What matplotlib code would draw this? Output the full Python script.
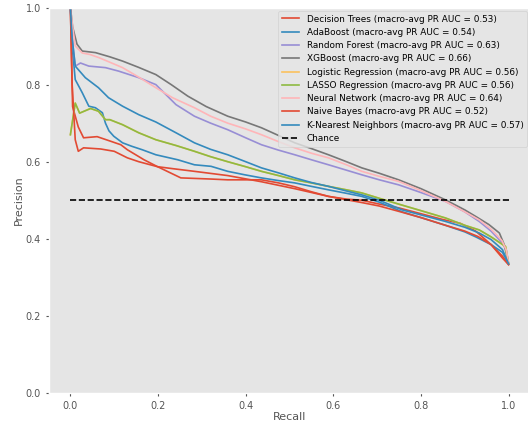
import numpy as np
import matplotlib
matplotlib.use('Agg')
import matplotlib.pyplot as plt

plt.style.use('ggplot')

# precision-recall curves
dt_r = [0, 0.005, 0.018, 0.03, 0.061, 0.092, 0.115, 0.13, 0.168, 0.199, 0.252, 0.321, 0.359, 0.40, 0.436, 0.475, 0.512, 0.55, 0.589, 0.63, 0.665, 0.705, 0.75, 0.80, 0.85, 0.89, 0.925, 0.96, 0.986, 1.0]
dt_p = [1.0, 0.743, 0.69, 0.662, 0.665, 0.653, 0.644, 0.631, 0.605, 0.587, 0.558, 0.555, 0.553, 0.553, 0.553, 0.545, 0.535, 0.522, 0.51, 0.503, 0.50, 0.49, 0.48, 0.465, 0.45, 0.44, 0.42, 0.385, 0.355, 0.333]

ada_r = [0, 0.004, 0.011, 0.027, 0.042, 0.057, 0.073, 0.080, 0.088, 0.099, 0.119, 0.14, 0.164, 0.195, 0.245, 0.283, 0.321, 0.359, 0.398, 0.436, 0.475, 0.512, 0.55, 0.589, 0.63, 0.665, 0.705, 0.757, 0.80, 0.856, 0.90, 0.925, 0.96, 0.986, 1.0]
ada_p = [1.0, 0.90, 0.813, 0.779, 0.744, 0.74, 0.727, 0.70, 0.68, 0.666, 0.649, 0.64, 0.631, 0.618, 0.605, 0.592, 0.588, 0.575, 0.566, 0.558, 0.551, 0.545, 0.536, 0.527, 0.518, 0.51, 0.495, 0.47, 0.455, 0.435, 0.418, 0.405, 0.385, 0.365, 0.335]

rf_r = [0, 0.006, 0.011, 0.023, 0.042, 0.08, 0.11, 0.156, 0.195, 0.241, 0.283, 0.32, 0.359, 0.40, 0.436, 0.475, 0.512, 0.55, 0.589, 0.63, 0.665, 0.705, 0.749, 0.80, 0.856, 0.90, 0.933, 0.96, 0.985, 0.995, 1.0]
rf_p = [1.0, 0.90, 0.848, 0.856, 0.848, 0.844, 0.835, 0.818, 0.80, 0.748, 0.718, 0.70, 0.683, 0.662, 0.644, 0.63, 0.618, 0.605, 0.592, 0.578, 0.566, 0.553, 0.54, 0.52, 0.497, 0.47, 0.445, 0.42, 0.39, 0.37, 0.335]

xgb_r = [0, 0.005, 0.015, 0.027, 0.057, 0.09, 0.119, 0.155, 0.195, 0.23, 0.268, 0.31, 0.359, 0.40, 0.436, 0.475, 0.512, 0.55, 0.589, 0.63, 0.665, 0.705, 0.749, 0.80, 0.856, 0.90, 0.925, 0.955, 0.979, 0.99, 1.0]
xgb_p = [1.0, 0.95, 0.905, 0.887, 0.883, 0.872, 0.861, 0.845, 0.826, 0.80, 0.770, 0.743, 0.718, 0.703, 0.688, 0.668, 0.649, 0.634, 0.618, 0.600, 0.584, 0.570, 0.553, 0.530, 0.501, 0.475, 0.458, 0.437, 0.415, 0.385, 0.335]

lr_r = [0, 0.011, 0.021, 0.046, 0.064, 0.080, 0.09, 0.119, 0.156, 0.195, 0.241, 0.283, 0.32, 0.359, 0.40, 0.436, 0.475, 0.512, 0.55, 0.589, 0.63, 0.665, 0.705, 0.749, 0.80, 0.856, 0.90, 0.933, 0.96, 0.993, 1.0]
lr_p = [0.67, 0.752, 0.726, 0.738, 0.731, 0.709, 0.709, 0.696, 0.675, 0.657, 0.642, 0.627, 0.613, 0.60, 0.587, 0.575, 0.564, 0.553, 0.545, 0.536, 0.527, 0.519, 0.505, 0.49, 0.473, 0.454, 0.435, 0.423, 0.405, 0.38, 0.335]

lasso_r = [0, 0.011, 0.021, 0.046, 0.064, 0.080, 0.09, 0.119, 0.156, 0.195, 0.241, 0.283, 0.32, 0.359, 0.40, 0.436, 0.475, 0.512, 0.55, 0.589, 0.63, 0.665, 0.705, 0.749, 0.80, 0.856, 0.90, 0.933, 0.96, 0.993, 1.0]
lasso_p = [0.67, 0.752, 0.726, 0.738, 0.731, 0.709, 0.709, 0.696, 0.675, 0.657, 0.642, 0.627, 0.613, 0.60, 0.587, 0.575, 0.564, 0.553, 0.545, 0.536, 0.527, 0.519, 0.505, 0.49, 0.473, 0.454, 0.435, 0.423, 0.405, 0.38, 0.335]

nn_r = [0, 0.005, 0.011, 0.027, 0.045, 0.065, 0.09, 0.119, 0.155, 0.195, 0.233, 0.283, 0.32, 0.359, 0.40, 0.436, 0.475, 0.512, 0.55, 0.589, 0.63, 0.665, 0.705, 0.749, 0.80, 0.856, 0.90, 0.933, 0.96, 0.985, 0.995, 1.0]
nn_p = [1.0, 0.95, 0.90, 0.882, 0.878, 0.870, 0.858, 0.844, 0.82, 0.792, 0.766, 0.74, 0.718, 0.70, 0.685, 0.67, 0.652, 0.636, 0.622, 0.61, 0.592, 0.575, 0.562, 0.549, 0.525, 0.497, 0.47, 0.449, 0.425, 0.395, 0.37, 0.335]

nb_r = [0, 0.004, 0.011, 0.018, 0.03, 0.069, 0.10, 0.13, 0.156, 0.199, 0.233, 0.283, 0.359, 0.436, 0.512, 0.589, 0.665, 0.705, 0.75, 0.80, 0.856, 0.90, 0.93, 0.96, 0.986, 1.0]
nb_p = [1.0, 0.80, 0.657, 0.627, 0.636, 0.633, 0.627, 0.61, 0.60, 0.587, 0.582, 0.575, 0.564, 0.548, 0.53, 0.51, 0.494, 0.485, 0.471, 0.455, 0.435, 0.42, 0.406, 0.385, 0.35, 0.333]

knn_r = [0, 0.004, 0.011, 0.034, 0.064, 0.087, 0.119, 0.156, 0.195, 0.241, 0.283, 0.32, 0.359, 0.40, 0.436, 0.475, 0.512, 0.55, 0.589, 0.63, 0.665, 0.705, 0.757, 0.80, 0.856, 0.90, 0.933, 0.96, 0.986, 1.0]
knn_p = [1.0, 0.92, 0.848, 0.818, 0.792, 0.766, 0.744, 0.722, 0.703, 0.675, 0.649, 0.632, 0.618, 0.60, 0.584, 0.571, 0.558, 0.546, 0.536, 0.524, 0.514, 0.50, 0.475, 0.462, 0.445, 0.43, 0.415, 0.398, 0.372, 0.335]

names = ['Decision Trees', 'AdaBoost', 'Random Forest', 'XGBoost', 'Logistic Regression',
         'LASSO Regression', 'Neural Network', 'Naive Bayes', 'K-Nearest Neighbors']
auc = [0.53, 0.54, 0.63, 0.66, 0.56, 0.56, 0.64, 0.52, 0.57]
curves = [(dt_r, dt_p), (ada_r, ada_p), (rf_r, rf_p), (xgb_r, xgb_p), (lr_r, lr_p),
          (lasso_r, lasso_p), (nn_r, nn_p), (nb_r, nb_p), (knn_r, knn_p)]

fig = plt.figure(figsize=(5.28, 4.21), dpi=100)
ax = fig.add_axes([48.5/528, 28/421, 482/528, 385.5/421])

for name, a, (r, p) in zip(names, auc, curves):
    ax.plot(r, p, lw=1.2, label=name + ' (macro-avg PR AUC = {:.2f})'.format(a))
ax.plot([0, 1], [0.5, 0.5], 'k--', lw=1.2, label='Chance')

ax.set_xlim(-0.05, 1.05)
ax.set_ylim(0, 1.0)
ax.grid(False)
ax.set_xlabel('Recall', fontsize=8, labelpad=1)
ax.set_ylabel('Precision', fontsize=8, labelpad=1)
ax.tick_params(labelsize=7, length=2)
ax.legend(loc='upper right', fontsize=6.4, labelspacing=0.48, handlelength=2.0,
          borderaxespad=0.4)

fig.savefig('out.png', dpi=100)
